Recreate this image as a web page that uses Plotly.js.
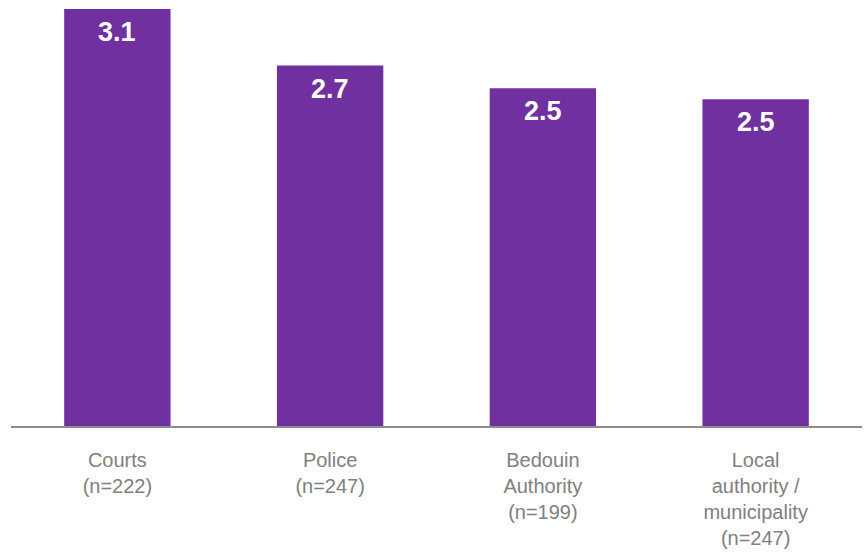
<!DOCTYPE html>
<html>
<head>
<meta charset="utf-8">
<script src="https://cdn.plot.ly/plotly-3.0.1.min.js"></script>
<style>html,body{margin:0;padding:0;background:#fff;}#chart{width:867px;height:554px;}</style>
</head>
<body>
<div id="chart"></div>
<script>
const categories = ["Courts<br>(n=222)", "Police<br>(n=247)", "Bedouin<br>Authority<br>(n=199)", "Local<br>authority /<br>municipality<br>(n=247)"];
const values = [3.1, 2.68, 2.51, 2.43];
const valueLabels = ["3.1", "2.7", "2.5", "2.5"];

const trace = {
  type: 'bar',
  x: categories,
  y: values,
  marker: {color: '#7030A0'},
  width: 0.5,
  hoverinfo: 'none'
};

const annotations = categories.map((c, i) => ({
  x: c, y: values[i], xref: 'x', yref: 'y',
  text: valueLabels[i], showarrow: false,
  yanchor: 'top', yshift: -6,
  font: {family: 'Liberation Sans, Arial, sans-serif', size: 27, color: '#ffffff', weight: 'bold'}
}));

const layout = {
  width: 867, height: 554,
  margin: {l: 11, r: 5, t: 0, b: 128},
  paper_bgcolor: '#ffffff', plot_bgcolor: '#ffffff',
  showlegend: false,
  bargap: 0.5,
  xaxis: {
    type: 'category',
    showline: true, linecolor: '#8c8c8c', linewidth: 2,
    ticks: '', showgrid: false, zeroline: false,
    tickfont: {family: 'Liberation Sans, Arial, sans-serif', size: 20, color: '#808080'},
    ticklabelstandoff: 15
  },
  yaxis: {
    range: [0, 3.167], visible: false, showgrid: false, zeroline: false, fixedrange: true
  },
  annotations: annotations
};

Plotly.newPlot('chart', [trace], layout, {displayModeBar: false, staticPlot: true});
</script>
</body>
</html>
